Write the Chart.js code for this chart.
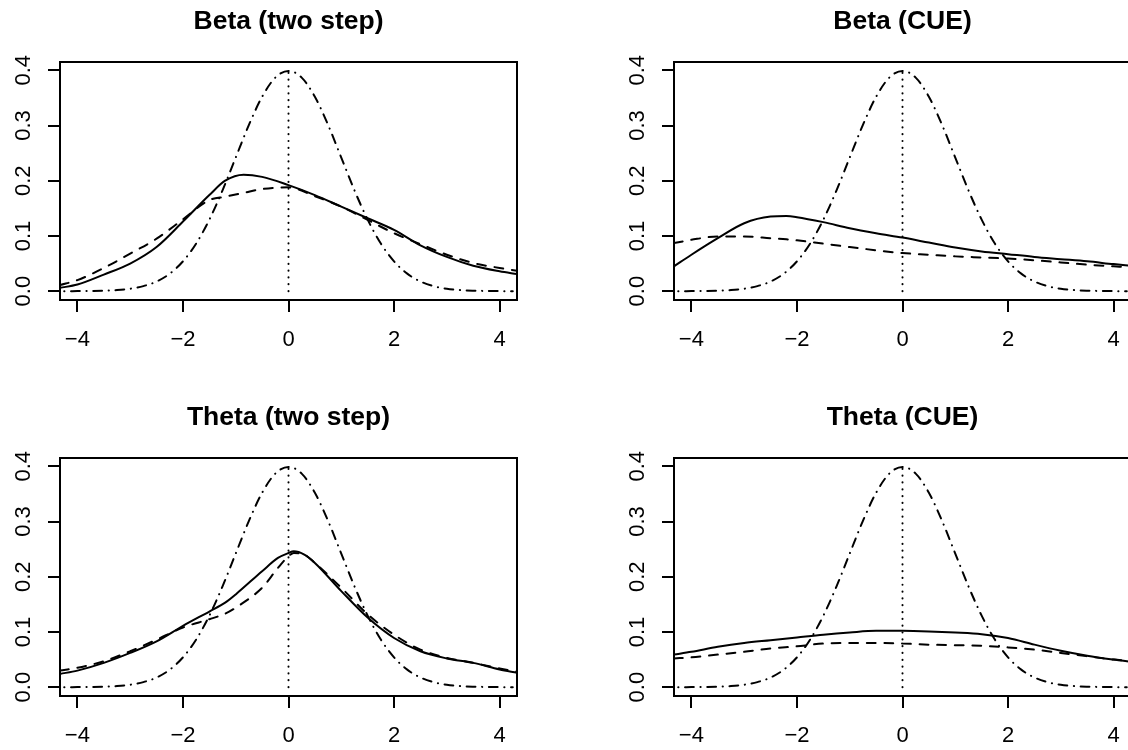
<!DOCTYPE html>
<html>
<head>
<meta charset="utf-8">
<script src="https://cdn.jsdelivr.net/npm/chart.js@4.4.1/dist/chart.umd.min.js"></script>
<style>
  html, body { margin: 0; padding: 0; background: #fff; }
  body { width: 1128px; height: 750px; overflow: hidden; position: relative; }
  .panel { position: absolute; }
</style>
</head>
<body>
<div class="panel" style="left:0px;top:0px"><canvas id="p1" width="600" height="396"></canvas></div>
<div class="panel" style="left:614px;top:0px"><canvas id="p2" width="600" height="396"></canvas></div>
<div class="panel" style="left:0px;top:396px"><canvas id="p3" width="600" height="396"></canvas></div>
<div class="panel" style="left:614px;top:396px"><canvas id="p4" width="600" height="396"></canvas></div>
<script>
// --- axes ---
const xTicks = [-4, -2, 0, 2, 4];
const xTickLabels = ['\u22124', '\u22122', '0', '2', '4'];
const yTicks = [0, 0.1, 0.2, 0.3, 0.4];
const yTickLabels = ['0.0', '0.1', '0.2', '0.3', '0.4'];

const panelTitles = ['Beta (two step)', 'Beta (CUE)', 'Theta (two step)', 'Theta (CUE)'];

// --- standard normal reference (dot-dash) ---
const normX = [-4.25, -4, -3.75, -3.5, -3.25, -3, -2.75, -2.5, -2.25, -2, -1.75, -1.5, -1.25, -1, -0.75, -0.5, -0.25, 0,
  0.25, 0.5, 0.75, 1, 1.25, 1.5, 1.75, 2, 2.25, 2.5, 2.75, 3, 3.25, 3.5, 3.75, 4, 4.25];
const normY = [0.00005, 0.0001, 0.0004, 0.0009, 0.002, 0.0044, 0.0091, 0.0175, 0.0317, 0.054, 0.0863, 0.1295, 0.1826, 0.242, 0.3011, 0.3521, 0.3867, 0.3989,
  0.3867, 0.3521, 0.3011, 0.242, 0.1826, 0.1295, 0.0863, 0.054, 0.0317, 0.0175, 0.0091, 0.0044, 0.002, 0.0009, 0.0004, 0.0001, 0.00005];

// dotted line at the centre
const peakX = [0, 0];
const peakY = [0, 0.3989];

// --- Beta (two step) ---
const betaTwoX = [-4.33, -4, -3.5, -3, -2.5, -2, -1.5, -1.2, -0.85, -0.5, 0, 0.5, 1, 1.5, 2, 2.5, 3, 3.5, 4, 4.33];
const betaTwoSolid = [0.006, 0.012, 0.03, 0.05, 0.08, 0.126, 0.174, 0.2, 0.211, 0.207, 0.192, 0.174, 0.153, 0.132, 0.111, 0.083, 0.062, 0.046, 0.036, 0.031];
const betaTwoDashed = [0.011, 0.02, 0.042, 0.068, 0.095, 0.13, 0.165, 0.171, 0.178, 0.185, 0.188, 0.172, 0.153, 0.129, 0.105, 0.085, 0.066, 0.051, 0.042, 0.037];

// --- Beta (CUE) ---
const betaCueX = [-4.33, -4, -3.5, -3, -2.5, -2.2, -2, -1.5, -1, -0.5, 0, 0.5, 1, 1.5, 2, 2.5, 3, 3.5, 4, 4.33];
const betaCueSolid = [0.045, 0.066, 0.096, 0.123, 0.135, 0.136, 0.134, 0.125, 0.114, 0.105, 0.097, 0.088, 0.079, 0.072, 0.067, 0.062, 0.058, 0.054, 0.049, 0.046];
const betaCueDashed = [0.087, 0.093, 0.099, 0.099, 0.096, 0.094, 0.092, 0.086, 0.08, 0.074, 0.069, 0.066, 0.063, 0.061, 0.059, 0.056, 0.052, 0.048, 0.045, 0.043];

// --- Theta (two step) ---
const thetaTwoX = [-4.33, -4, -3.5, -3, -2.5, -2, -1.5, -1.2, -1, -0.5, -0.2, 0, 0.1, 0.3, 0.5, 1, 1.5, 2, 2.5, 3, 3.5, 4, 4.33];
const thetaTwoSolid = [0.024, 0.03, 0.044, 0.062, 0.083, 0.111, 0.137, 0.153, 0.168, 0.21, 0.234, 0.243, 0.246, 0.24, 0.225, 0.174, 0.126, 0.089, 0.065, 0.052, 0.044, 0.032, 0.026];
const thetaTwoDashed = [0.03, 0.035, 0.047, 0.065, 0.086, 0.108, 0.123, 0.133, 0.144, 0.18, 0.216, 0.237, 0.243, 0.24, 0.225, 0.18, 0.132, 0.095, 0.068, 0.053, 0.044, 0.034, 0.028];

// --- Theta (CUE) ---
const thetaCueX = [-4.33, -4, -3.5, -3, -2.5, -2, -1.5, -1, -0.5, 0, 0.5, 1, 1.5, 2, 2.5, 3, 3.5, 4, 4.33];
const thetaCueSolid = [0.059, 0.064, 0.073, 0.08, 0.085, 0.09, 0.095, 0.099, 0.102, 0.102, 0.101, 0.099, 0.096, 0.089, 0.077, 0.066, 0.057, 0.05, 0.046];
const thetaCueDashed = [0.052, 0.054, 0.059, 0.064, 0.07, 0.074, 0.079, 0.08, 0.08, 0.079, 0.077, 0.076, 0.075, 0.072, 0.068, 0.062, 0.056, 0.05, 0.047];

const FONT = '"Liberation Sans", Arial, Helvetica, sans-serif';
const U = 2.2; // R line-type unit at this resolution

function pts(xs, ys) {
  return xs.map((x, i) => ({ x, y: ys[i] }));
}

// R style box around the plot region
const boxPlugin = {
  id: 'rbox',
  afterDraw(chart) {
    const { ctx, chartArea: a } = chart;
    ctx.save();
    ctx.strokeStyle = '#000';
    ctx.lineWidth = 2;
    ctx.strokeRect(a.left, a.top, a.right - a.left, a.bottom - a.top);
    ctx.restore();
  },
};

function curve(data, dash) {
  return {
    data,
    borderColor: '#000',
    borderWidth: 2,
    borderDash: dash,
    borderCapStyle: 'round',
    pointRadius: 0,
    cubicInterpolationMode: 'monotone',
    fill: false,
  };
}

function makePanel(id, title, xs, solid, dashed) {
  const datasets = [
    curve(pts(xs, solid), []),
    curve(pts(xs, dashed), [4 * U, 4 * U]),
    curve(pts(normX, normY), [U * 0.1, 3 * U, 4 * U, 3 * U]),
    { ...curve(pts(peakX, peakY), [U * 0.1, 3 * U]), cubicInterpolationMode: 'default', tension: 0 },
  ];

  new Chart(document.getElementById(id), {
    type: 'line',
    data: { datasets },
    options: {
      responsive: false,
      animation: false,
      layout: { padding: { left: 0, right: 83, top: 0, bottom: 0 } },
      plugins: {
        legend: { display: false },
        tooltip: { enabled: false },
        title: {
          display: true,
          text: title,
          fullSize: false,
          color: '#000',
          font: { family: FONT, size: 26.5, weight: 'bold', lineHeight: 1.2 },
          padding: { top: 6, bottom: 24.2 },
        },
      },
      scales: {
        x: {
          type: 'linear',
          min: -4.33,
          max: 4.33,
          afterBuildTicks: (s) => { s.ticks = xTicks.map((v) => ({ value: v })); },
          afterFit: (s) => { s.height = 96; },
          ticks: {
            color: '#000',
            font: { family: FONT, size: 22 },
            padding: 15,
            maxRotation: 0,
            callback: (v) => xTickLabels[xTicks.indexOf(v)],
          },
          grid: { drawOnChartArea: false, drawTicks: true, tickLength: 12, color: '#000', lineWidth: 2 },
          border: { display: false },
        },
        y: {
          type: 'linear',
          min: -0.016,
          max: 0.415,
          afterBuildTicks: (s) => { s.ticks = yTicks.map((v) => ({ value: v })); },
          afterFit: (s) => { s.width = 60; },
          ticks: {
            color: '#000',
            font: { family: FONT, size: 22 },
            padding: 9,
            minRotation: 90,
            maxRotation: 90,
            crossAlign: 'center',
            callback: (v) => yTickLabels[yTicks.indexOf(v)],
          },
          grid: { drawOnChartArea: false, drawTicks: true, tickLength: 12, color: '#000', lineWidth: 2 },
          border: { display: false },
        },
      },
    },
    plugins: [boxPlugin],
  });
}

makePanel('p1', panelTitles[0], betaTwoX, betaTwoSolid, betaTwoDashed);
makePanel('p2', panelTitles[1], betaCueX, betaCueSolid, betaCueDashed);
makePanel('p3', panelTitles[2], thetaTwoX, thetaTwoSolid, thetaTwoDashed);
makePanel('p4', panelTitles[3], thetaCueX, thetaCueSolid, thetaCueDashed);
</script>
</body>
</html>
